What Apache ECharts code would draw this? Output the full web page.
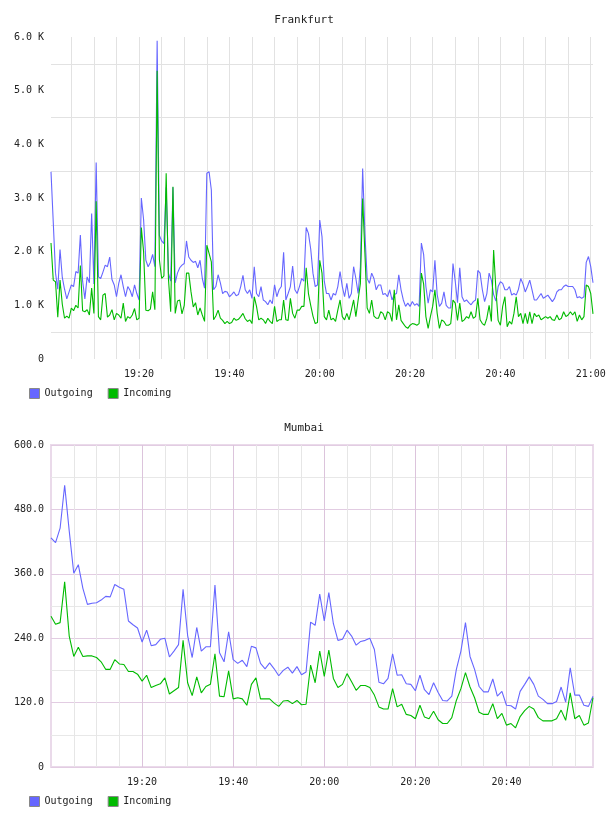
<!DOCTYPE html>
<html>
<head>
<meta charset="utf-8">
<script src="https://cdn.jsdelivr.net/npm/echarts@6.0.0/dist/echarts.min.js"></script>
<style>
  html, body { margin: 0; padding: 0; background: #fff; }
  .panel { width: 608px; height: 408px; }
</style>
</head>
<body>
<div id="frankfurt" class="panel"></div>
<div id="mumbai" class="panel"></div>
<script>
// Frankfurt: one sample every 30 s from 19:00:30, values in K
const frankfurtStart = "19:00:30";
const frankfurtStepSec = 30;
const frankfurtOutgoing = [
  3.49, 2.55, 1.60, 1.30, 2.04, 1.52, 1.30, 1.12, 1.25, 1.38,
  1.35, 1.63, 1.60, 2.31, 1.45, 1.12, 1.53, 1.42, 2.71, 1.40,
  3.66, 1.53, 1.50, 1.62, 1.75, 1.72, 1.90, 1.48, 1.38, 1.16,
  1.41, 1.57, 1.35, 1.16, 1.35, 1.28, 1.16, 1.38, 1.22, 1.10,
  3.00, 2.60, 1.84, 1.72, 1.80, 1.95, 1.72, 5.93, 2.30, 2.20,
  2.15, 3.20, 1.60, 1.45, 3.20, 1.42, 1.60, 1.70, 1.75, 1.78,
  2.20, 1.90, 1.84, 1.80, 1.82, 1.70, 1.84, 1.50, 1.32, 3.46,
  3.49, 3.15, 1.29, 1.35, 1.57, 1.42, 1.22, 1.26, 1.25, 1.16,
  1.20, 1.25, 1.18, 1.20, 1.35, 1.56, 1.29, 1.22, 1.29, 1.13,
  1.72, 1.22, 1.16, 1.35, 1.10, 1.07, 1.01, 1.10, 1.03, 1.38,
  1.16, 1.29, 1.35, 1.99, 1.10, 1.22, 1.35, 1.73, 1.29, 1.22,
  1.35, 1.50, 1.45, 2.45, 2.34, 2.05, 1.60, 1.35, 1.38, 2.59,
  2.28, 1.45, 1.22, 1.22, 1.10, 1.22, 1.19, 1.35, 1.63, 1.35,
  1.16, 1.41, 1.13, 1.22, 1.72, 1.50, 1.22, 1.72, 3.55, 2.34,
  1.50, 1.41, 1.60, 1.50, 1.29, 1.38, 1.38, 1.20, 1.22, 1.16,
  1.29, 1.10, 1.20, 1.22, 1.57, 1.29, 1.10, 0.98, 1.04, 0.98,
  1.07, 1.00, 1.03, 0.98, 2.16, 1.95, 1.35, 1.04, 1.29, 1.25,
  1.84, 1.20, 0.98, 1.04, 1.25, 1.00, 0.95, 0.95, 1.78, 1.45,
  1.05, 1.70, 1.16, 1.07, 1.10, 1.05, 1.01, 1.07, 1.10, 1.65,
  1.60, 1.29, 1.07, 1.22, 1.60, 1.47, 1.20, 1.08, 1.35, 1.44,
  1.41, 1.29, 1.29, 1.35, 1.19, 1.22, 1.19, 1.30, 1.50, 1.40,
  1.25, 1.35, 1.47, 1.29, 1.10, 1.10, 1.16, 1.22, 1.13, 1.16,
  1.19, 1.13, 1.07, 1.13, 1.25, 1.29, 1.29, 1.35, 1.38, 1.35,
  1.35, 1.35, 1.29, 1.14, 1.16, 1.13, 1.16, 1.80, 1.91, 1.72,
  1.42
];
const frankfurtIncoming = [
  2.16, 1.47, 1.44, 0.78, 1.47, 1.02, 0.76, 0.80, 0.76, 0.95,
  0.90, 1.00, 0.95, 1.74, 0.90, 0.88, 0.92, 0.82, 1.32, 0.85,
  2.94, 0.79, 0.73, 1.19, 1.22, 0.78, 0.82, 0.92, 0.73, 0.85,
  0.82, 0.76, 1.04, 0.70, 0.79, 0.76, 0.82, 0.94, 0.73, 0.76,
  2.45, 2.00, 0.91, 0.90, 0.93, 1.25, 0.92, 5.37, 1.85, 1.50,
  1.55, 3.46, 1.50, 0.88, 3.21, 0.85, 1.08, 1.10, 0.84, 1.00,
  1.60, 1.60, 1.25, 0.97, 1.05, 0.82, 0.95, 0.82, 0.70, 2.12,
  1.97, 1.81, 0.73, 0.80, 0.91, 0.76, 0.72, 0.66, 0.70, 0.66,
  0.68, 0.76, 0.72, 0.74, 0.79, 0.85, 0.75, 0.70, 0.73, 0.66,
  1.16, 0.98, 0.73, 0.76, 0.73, 0.66, 0.76, 0.70, 0.66, 0.98,
  0.70, 0.73, 0.73, 1.10, 0.73, 0.72, 1.13, 0.85, 0.76, 0.91,
  0.91, 0.98, 0.98, 1.70, 1.22, 1.00, 0.80, 0.66, 0.68, 1.84,
  1.60, 0.79, 0.73, 0.91, 0.73, 0.76, 0.70, 0.91, 1.10, 0.79,
  0.73, 0.85, 0.73, 0.91, 1.10, 0.79, 1.10, 1.41, 2.99, 1.97,
  0.95, 0.85, 1.10, 0.80, 0.76, 0.76, 0.88, 0.85, 0.73, 0.88,
  0.85, 0.70, 1.29, 0.73, 1.01, 0.72, 0.66, 0.60, 0.57, 0.63,
  0.66, 0.65, 0.63, 0.66, 1.60, 1.40, 0.79, 0.57, 0.79, 0.98,
  1.29, 0.85, 0.57, 0.73, 0.70, 0.63, 0.63, 0.66, 1.10, 1.04,
  0.72, 1.04, 0.70, 0.73, 0.79, 0.76, 0.88, 0.76, 0.79, 1.13,
  0.73, 0.66, 0.63, 0.76, 1.00, 0.70, 2.03, 1.30, 0.72, 0.63,
  0.98, 1.16, 0.60, 0.70, 0.65, 0.85, 1.16, 0.79, 0.85, 0.66,
  0.85, 0.66, 0.88, 0.66, 0.85, 0.79, 0.82, 0.73, 0.76, 0.79,
  0.76, 0.79, 0.73, 0.72, 0.82, 0.73, 0.76, 0.88, 0.79, 0.82,
  0.88, 0.82, 0.88, 0.70, 0.82, 0.73, 0.79, 1.38, 1.35, 1.22,
  0.84
];
const frankfurtYTicks = [0, 1, 2, 3, 4, 5, 6];
const frankfurtTimeLabels = ["19:20", "19:40", "20:00", "20:20", "20:40", "21:00"];

// Mumbai: one sample per minute from 19:00
const mumbaiStart = "19:00:00";
const mumbaiStepSec = 60;
const mumbaiOutgoing = [
  427, 418, 445, 525, 440, 361, 377, 333, 303, 305,
  306, 311, 318, 317, 340, 335, 331, 272, 265, 259,
  233, 255, 226, 228, 238, 240, 205, 216, 228, 331,
  245, 204, 260, 216, 224, 224, 339, 213, 196, 252,
  200, 193, 199, 187, 225, 222, 193, 183, 194, 183,
  170, 180, 186, 175, 187, 172, 177, 270, 264, 322,
  272, 325, 267, 236, 238, 255, 244, 227, 234, 236,
  240, 219, 158, 155, 165, 211, 171, 172, 155, 154,
  142, 171, 144, 135, 157, 139, 124, 123, 132, 182,
  216, 269, 206, 182, 150, 140, 140, 164, 132, 141,
  115, 114, 108, 141, 154, 168, 154, 132, 126, 118,
  118, 122, 149, 121, 185, 134, 134, 115, 113, 132
];
const mumbaiIncoming = [
  281, 266, 269, 345, 244, 206, 223, 206, 207, 207,
  204, 196, 182, 182, 200, 192, 191, 178, 178, 173,
  160, 171, 148, 152, 155, 166, 136, 142, 148, 236,
  157, 133, 168, 138, 150, 154, 211, 132, 131, 179,
  127, 129, 127, 115, 154, 166, 127, 127, 127, 119,
  113, 123, 124, 118, 124, 116, 117, 190, 157, 216,
  169, 218, 165, 148, 154, 174, 159, 143, 152, 152,
  148, 134, 112, 108, 108, 146, 112, 117, 98, 96,
  90, 115, 93, 90, 104, 88, 81, 81, 92, 124,
  146, 176, 149, 129, 102, 98, 98, 118, 90, 100,
  78, 81, 73, 94, 105, 113, 108, 92, 86, 86,
  86, 90, 106, 87, 138, 90, 96, 78, 82, 129
];
const mumbaiYTicks = [0, 120, 240, 360, 480, 600];
const mumbaiTimeLabels = ["19:20", "19:40", "20:00", "20:20", "20:40"];

const seriesNames = ["Outgoing", "Incoming"];
const seriesColors = ["#6666ff", "#00bb00"];

const FONT = "DejaVu Sans Mono";

// sample times as HH:MM:SS strings
function makeTimes(start, stepSec, count) {
  const p = start.split(":").map(Number);
  let t = p[0] * 3600 + p[1] * 60 + p[2];
  const out = [];
  for (let i = 0; i < count; i++) {
    const h = Math.floor(t / 3600), m = Math.floor((t % 3600) / 60), s = t % 60;
    out.push([h, m, s].map((n) => String(n).padStart(2, "0")).join(":"));
    t += stepSec;
  }
  return out;
}

const isFiveMin = (v) => v.endsWith(":00") && Number(v.slice(3, 5)) % 5 === 0;

function lineSeries(name, color, data, extra) {
  return Object.assign({
    name: name,
    type: "line",
    data: data,
    symbol: "none",
    showSymbol: false,
    animation: false,
    lineStyle: { width: 1.1, color: color },
    itemStyle: { color: color },
    emphasis: { disabled: true },
  }, extra || {});
}

function legendOpt() {
  return {
    left: 24,
    top: 383,
    icon: "rect",
    itemWidth: 10,
    itemHeight: 10,
    itemGap: 15,
    selectedMode: false,
    itemStyle: { borderColor: "#888", borderWidth: 1 },
    textStyle: { fontFamily: FONT, fontSize: 10, color: "#222" },
    data: seriesNames,
  };
}

function titleOpt(text) {
  return {
    text: text,
    left: "center",
    top: 15,
    padding: 0,
    textStyle: { fontFamily: FONT, fontSize: 11, fontWeight: "normal", color: "#222" },
  };
}

// ---------- Frankfurt ----------
const fTimes = makeTimes(frankfurtStart, frankfurtStepSec, frankfurtOutgoing.length);
const fChart = echarts.init(document.getElementById("frankfurt"));
fChart.setOption({
  animation: false,
  backgroundColor: "#fff",
  title: titleOpt("Frankfurt"),
  legend: legendOpt(),
  grid: { left: 51, right: 15, top: 37, bottom: 49, outerBoundsMode: "none" },
  xAxis: {
    type: "category",
    data: fTimes,
    boundaryGap: false,
    axisLine: { show: false },
    axisTick: { show: false },
    axisLabel: {
      interval: (i, v) => frankfurtTimeLabels.includes(v.slice(0, 5)) && v.endsWith(":00"),
      formatter: (v) => v.slice(0, 5),
      margin: 10,
      fontFamily: FONT,
      fontSize: 10,
      color: "#222",
    },
    splitLine: {
      show: true,
      interval: (i, v) => isFiveMin(v),
      lineStyle: { color: "#e2e2e2", width: 1 },
    },
  },
  yAxis: {
    type: "value",
    min: frankfurtYTicks[0],
    max: frankfurtYTicks[frankfurtYTicks.length - 1],
    interval: frankfurtYTicks[1] - frankfurtYTicks[0],
    axisLine: { show: false },
    axisTick: { show: false },
    axisLabel: {
      margin: 7,
      fontFamily: FONT,
      fontSize: 10,
      color: "#222",
      formatter: (v) => (v === 0 ? "0" : v.toFixed(1) + " K"),
    },
    splitLine: { show: false },
    minorTick: { show: false, splitNumber: 2 },
    minorSplitLine: { show: true, lineStyle: { color: "#e2e2e2", width: 1 } },
  },
  series: [
    lineSeries(seriesNames[0], seriesColors[0], frankfurtOutgoing),
    lineSeries(seriesNames[1], seriesColors[1], frankfurtIncoming),
  ],
});

// ---------- Mumbai ----------
const mTimes = makeTimes(mumbaiStart, mumbaiStepSec, mumbaiOutgoing.length);
const isMajor = (i, v) => i > 0 && mumbaiTimeLabels.includes(v.slice(0, 5));
const mChart = echarts.init(document.getElementById("mumbai"));
mChart.setOption({
  animation: false,
  backgroundColor: "#fff",
  title: titleOpt("Mumbai"),
  legend: legendOpt(),
  grid: {
    left: 51, right: 15, top: 37, bottom: 49,
    show: true,
    borderColor: "#eadaea",
    borderWidth: 2,
    outerBoundsMode: "none",
  },
  xAxis: [
    {
      type: "category",
      data: mTimes,
      boundaryGap: false,
      axisLine: { show: false },
      axisTick: { show: false },
      axisLabel: {
        interval: isMajor,
        formatter: (v) => v.slice(0, 5),
        margin: 10,
        fontFamily: FONT,
        fontSize: 10,
        color: "#222",
      },
      splitLine: {
        show: true,
        interval: isMajor,
        lineStyle: { color: "#dcc4dc", width: 1 },
      },
      z: 1,
    },
    {
      type: "category",
      data: mTimes,
      boundaryGap: false,
      axisLine: { show: false },
      axisTick: { show: false },
      axisLabel: { show: false },
      splitLine: {
        show: true,
        interval: (i, v) => i > 0 && isFiveMin(v) && !isMajor(i, v),
        lineStyle: { color: "#e6e6e6", width: 1 },
      },
      z: 0,
    },
  ],
  yAxis: {
    type: "value",
    min: mumbaiYTicks[0],
    max: mumbaiYTicks[mumbaiYTicks.length - 1],
    interval: mumbaiYTicks[1] - mumbaiYTicks[0],
    axisLine: { show: false },
    axisTick: { show: false },
    axisLabel: {
      margin: 7,
      fontFamily: FONT,
      fontSize: 10,
      color: "#222",
      formatter: (v) => (v === 0 ? "0" : v.toFixed(1)),
    },
    splitLine: { show: true, lineStyle: { color: "#e2cce2", width: 1 } },
    minorTick: { show: false, splitNumber: 2 },
    minorSplitLine: { show: true, lineStyle: { color: "#e8e8e8", width: 1 } },
  },
  series: [
    lineSeries(seriesNames[0], seriesColors[0], mumbaiOutgoing, { xAxisIndex: 0 }),
    lineSeries(seriesNames[1], seriesColors[1], mumbaiIncoming, { xAxisIndex: 0 }),
  ],
});

window.addEventListener("resize", () => {
  fChart.resize();
  mChart.resize();
});
</script>
</body>
</html>
